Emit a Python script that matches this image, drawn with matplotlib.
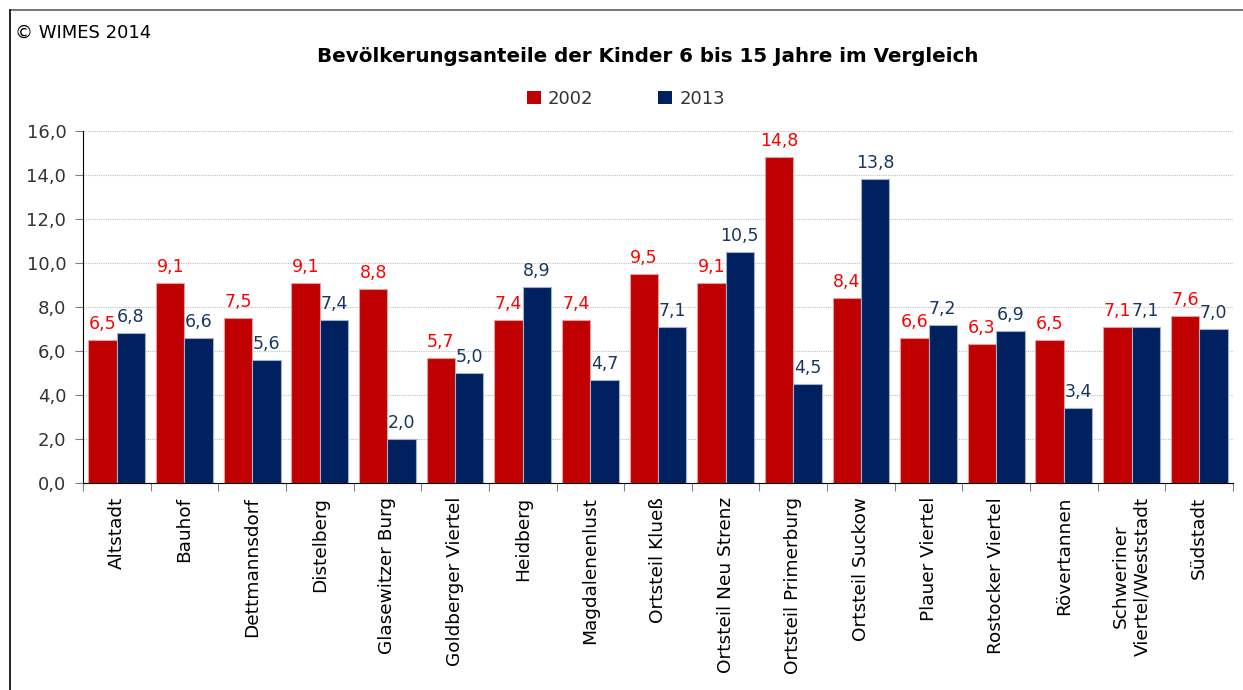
import numpy as np
import matplotlib.pyplot as plt
from matplotlib.lines import Line2D
from matplotlib.patches import Patch

# --- Daten ---
stadtteile = ["Altstadt", "Bauhof", "Dettmannsdorf", "Distelberg", "Glasewitzer Burg",
              "Goldberger Viertel", "Heidberg", "Magdalenenlust", "Ortsteil Klueß",
              "Ortsteil Neu Strenz", "Ortsteil Primerburg", "Ortsteil Suckow", "Plauer Viertel",
              "Rostocker Viertel", "Rövertannen", "Schweriner\nViertel/Weststadt", "Südstadt"]
werte_2002 = [6.5, 9.1, 7.5, 9.1, 8.8, 5.7, 7.4, 7.4, 9.5, 9.1, 14.8, 8.4, 6.6, 6.3, 6.5, 7.1, 7.6]
werte_2013 = [6.8, 6.6, 5.6, 7.4, 2.0, 5.0, 8.9, 4.7, 7.1, 10.5, 4.5, 13.8, 7.2, 6.9, 3.4, 7.1, 7.0]
jahre = ["2002", "2013"]

rot = "#C00000"
blau = "#002060"

fig = plt.figure(figsize=(12.43, 6.9), dpi=100)
ax = fig.add_axes([83 / 1243, 1 - 483 / 690, 1150 / 1243, 352 / 690])

x = np.arange(len(stadtteile))
w = 0.42
b1 = ax.bar(x - w / 2, werte_2002, w, color=rot, edgecolor="#E0A0A0", linewidth=0.8)
b2 = ax.bar(x + w / 2, werte_2013, w, color=blau, edgecolor="#A0B0C8", linewidth=0.8)

def fmt(v):
    return f"{v:.1f}".replace(".", ",")

for rect, v in zip(b1, werte_2002):
    ax.annotate(fmt(v), (rect.get_x() + rect.get_width() / 2, v), xytext=(0, 5),
                textcoords="offset points", ha="center", va="bottom", fontsize=12.5, color="#FF0000")
for rect, v in zip(b2, werte_2013):
    ax.annotate(fmt(v), (rect.get_x() + rect.get_width() / 2, v), xytext=(0, 5),
                textcoords="offset points", ha="center", va="bottom", fontsize=12.5, color="#17375E")

ax.set_xlim(-0.5, len(stadtteile) - 0.5)
ax.set_ylim(0, 16)
ax.set_yticks(np.arange(0, 16.1, 2))
ax.set_yticklabels([fmt(v) for v in np.arange(0, 16.1, 2)], fontsize=13, color="#333333")
ax.yaxis.grid(True, linestyle=(0, (1, 1)), color="#C0C0C0", linewidth=0.8)
ax.set_axisbelow(True)

ax.set_xticks(np.arange(-0.5, len(stadtteile)), minor=False)
ax.set_xticklabels([])
ax.set_xticks(x, minor=True)
ax.set_xticklabels(stadtteile, minor=True, rotation=90, fontsize=13.3, color="black",
                   va="top", ha="center", multialignment="center")
ax.tick_params(axis="x", which="major", length=6, direction="out", color="#808080")
ax.tick_params(axis="x", which="minor", length=0, pad=10)
ax.tick_params(axis="y", length=6, direction="out", color="#808080", pad=6)

for s in ["top", "right"]:
    ax.spines[s].set_visible(False)
ax.spines["left"].set_color("black")
ax.spines["bottom"].set_color("black")

fig.text(648 / 1243, 1 - 56 / 690, "Bevölkerungsanteile der Kinder 6 bis 15 Jahre im Vergleich",
         ha="center", va="center", fontsize=14.3, fontweight="bold")
fig.text(15 / 1243, 1 - 33 / 690, "© WIMES 2014", ha="left", va="center", fontsize=13)

handles = [Patch(facecolor=rot), Patch(facecolor=blau)]
fig.legend(handles, jahre, loc="center", bbox_to_anchor=(626 / 1243, 1 - 99 / 690), ncol=2,
           frameon=False, fontsize=13, handlelength=0.75, handleheight=0.75,
           columnspacing=3.6, handletextpad=0.4, labelcolor="#333333")

# Rahmen
fig.add_artist(Line2D([10 / 1243, 1], [1 - 10 / 690, 1 - 10 / 690], color="#606060", linewidth=1.2))
fig.add_artist(Line2D([10 / 1243, 10 / 1243], [0, 1 - 10 / 690], color="black", linewidth=1.2))

fig.savefig("out.png", dpi=100)
